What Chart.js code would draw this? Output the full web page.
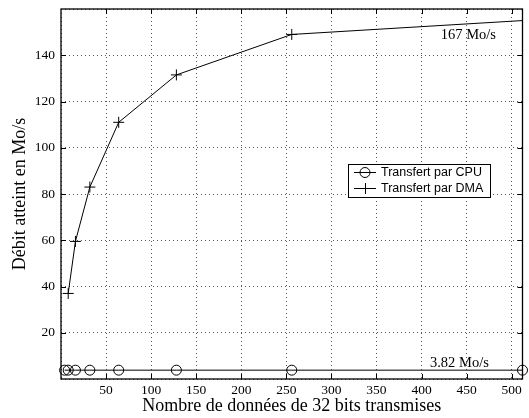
<!DOCTYPE html>
<html>
<head>
<meta charset="utf-8">
<script src="https://cdn.jsdelivr.net/npm/chart.js@4/dist/chart.umd.min.js"></script>
<style>
  html, body { margin: 0; padding: 0; background: #fff; }
  #wrap { width: 529px; height: 418px; }
</style>
</head>
<body>
<div id="wrap"><canvas id="debitChart" width="529" height="418"></canvas></div>
<script>
// mesures
const cpuTaille = [4, 8, 16, 32, 64, 128, 256, 512];
const cpuDebit = [3.82, 3.82, 3.82, 3.82, 3.82, 3.82, 3.82, 3.82];
const dmaTaille = [8, 16, 32, 64, 128, 256, 1024];
const dmaDebit = [37, 59.5, 83, 111, 131.5, 149, 167];

const xTicks = [50, 100, 150, 200, 250, 300, 350, 400, 450, 500];
const yTicks = [20, 40, 60, 80, 100, 120, 140];

const serif = '"Liberation Serif", "Times New Roman", serif';
const sans = '"Liberation Sans", Arial, sans-serif';

const toPoints = (xs, ys) => xs.map((x, i) => ({ x: x, y: ys[i] }));

// cadre, graduations internes, legende et annotations
const framePlugin = {
  id: 'frame',
  afterDatasetsDraw(chart) {
    const ctx = chart.ctx;
    const a = chart.chartArea;
    const xs = chart.scales.x, ys = chart.scales.y;
    ctx.save();
    ctx.strokeStyle = '#000';
    ctx.lineWidth = 1;
    ctx.beginPath();
    xTicks.forEach(v => {
      const px = Math.round(xs.getPixelForValue(v)) + 0.5;
      ctx.moveTo(px, a.bottom); ctx.lineTo(px, a.bottom - 5);
      ctx.moveTo(px, a.top); ctx.lineTo(px, a.top + 5);
    });
    yTicks.forEach(v => {
      const py = Math.round(ys.getPixelForValue(v)) + 0.5;
      ctx.moveTo(a.left, py); ctx.lineTo(a.left + 5, py);
      ctx.moveTo(a.right, py); ctx.lineTo(a.right - 5, py);
    });
    ctx.stroke();
    ctx.lineWidth = 1.3;
    ctx.strokeRect(a.left, a.top, a.right - a.left, a.bottom - a.top);

    // annotations
    ctx.fillStyle = '#000';
    ctx.font = '14.5px ' + serif;
    ctx.textAlign = 'center';
    ctx.textBaseline = 'middle';
    ctx.fillText('167 Mo/s', xs.getPixelForValue(452), ys.getPixelForValue(148.5));
    ctx.fillText('3.82 Mo/s', xs.getPixelForValue(442), ys.getPixelForValue(7));

    // legende
    const lx = 348, ly = 164, lw = 142, lh = 33;
    ctx.fillStyle = '#fff';
    ctx.fillRect(lx, ly, lw, lh);
    ctx.lineWidth = 1;
    ctx.strokeRect(lx + 0.5, ly + 0.5, lw, lh);
    const rows = [
      { label: 'Transfert par CPU', y: ly + 8, marker: 'circle' },
      { label: 'Transfert par DMA', y: ly + 24, marker: 'cross' }
    ];
    ctx.font = '12.5px ' + sans;
    ctx.textAlign = 'left';
    rows.forEach(r => {
      ctx.strokeStyle = '#000';
      ctx.beginPath();
      ctx.moveTo(lx + 6, r.y + 0.5); ctx.lineTo(lx + 28, r.y + 0.5);
      ctx.stroke();
      ctx.beginPath();
      if (r.marker === 'circle') {
        ctx.arc(lx + 17, r.y + 0.5, 5, 0, Math.PI * 2);
      } else {
        ctx.moveTo(lx + 17.5, r.y - 5); ctx.lineTo(lx + 17.5, r.y + 6);
      }
      ctx.stroke();
      ctx.fillStyle = '#000';
      ctx.fillText(r.label, lx + 33, r.y + 1);
    });
    ctx.restore();
  }
};

const ctx = document.getElementById('debitChart').getContext('2d');
new Chart(ctx, {
  type: 'scatter',
  data: {
    datasets: [
      {
        label: 'Transfert par CPU',
        data: toPoints(cpuTaille, cpuDebit),
        showLine: true,
        borderColor: '#000',
        borderWidth: 1,
        backgroundColor: 'rgba(0,0,0,0)',
        pointStyle: 'circle',
        pointRadius: 5,
        pointBorderWidth: 1,
        pointBorderColor: '#000',
        pointBackgroundColor: 'rgba(0,0,0,0)',
        clip: 8
      },
      {
        label: 'Transfert par DMA',
        data: toPoints(dmaTaille, dmaDebit),
        showLine: true,
        borderColor: '#000',
        borderWidth: 1,
        backgroundColor: 'rgba(0,0,0,0)',
        pointStyle: 'cross',
        pointRadius: 5.5,
        pointBorderWidth: 1,
        pointBorderColor: '#000',
        clip: 0
      }
    ]
  },
  options: {
    responsive: false,
    animation: false,
    layout: { padding: { top: 9, right: 6, left: 0, bottom: 0 } },
    plugins: {
      legend: { display: false },
      tooltip: { enabled: false }
    },
    scales: {
      x: {
        type: 'linear',
        min: 0,
        max: 512,
        afterFit(scale) {
          scale.height = 39;
          scale.paddingLeft = 0;
          scale.paddingRight = 0;
        },
        ticks: {
          stepSize: 50,
          includeBounds: false,
          padding: 3,
          maxRotation: 0,
          autoSkip: false,
          color: '#000',
          font: { family: serif, size: 13.5 },
          callback: v => (v > 0 && v % 50 === 0) ? String(v) : ''
        },
        grid: { color: '#555', lineWidth: 1, drawTicks: false },
        border: { display: false, dash: [1, 3] },
        title: {
          display: true,
          text: 'Nombre de données de 32 bits transmises',
          color: '#000',
          padding: { top: 0, bottom: 1 },
          font: { family: serif, size: 18 }
        }
      },
      y: {
        type: 'linear',
        min: 0,
        max: 160,
        afterFit(scale) {
          scale.width = 61;
          scale.paddingTop = 0;
          scale.paddingBottom = 0;
        },
        ticks: {
          stepSize: 20,
          padding: 6,
          color: '#000',
          font: { family: serif, size: 13.5 },
          callback: v => (v > 0 && v < 160) ? String(v) : ''
        },
        grid: { color: '#555', lineWidth: 1, drawTicks: false },
        border: { display: false, dash: [1, 3] },
        title: {
          display: true,
          text: 'Débit atteint en Mo/s',
          color: '#000',
          padding: { top: 9, bottom: 0 },
          font: { family: serif, size: 18 }
        }
      }
    }
  },
  plugins: [framePlugin]
});
</script>
</body>
</html>
